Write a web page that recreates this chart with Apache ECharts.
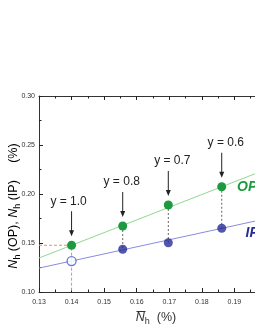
<!DOCTYPE html>
<html><head><meta charset="utf-8">
<script src="https://cdn.jsdelivr.net/npm/echarts@6/dist/echarts.min.js"></script>
<style>html,body{margin:0;padding:0;background:#fff}#c{width:255px;height:330px}</style>
</head><body><div id="c"></div>
<script>
// ---- data ----
const xMin = 0.13, xMax = 0.20, xStep = 0.01;
const yMin = 0.10, yMax = 0.30, yStep = 0.05;
const nbar = [0.1400, 0.1557, 0.1697, 0.1861];      // mean N_h (%)
const opVals = [0.1477, 0.1673, 0.1888, 0.2074];     // N_h (OP)
const ipVals = [0.1316, 0.1436, 0.1503, 0.1650];     // N_h (IP)
const yLabels = ['y = 1.0', 'y = 0.8', 'y = 0.7', 'y = 0.6'];
const opFit = [[0.13, 0.1347], [0.20, 0.2254]];
const ipFit = [[0.13, 0.1244], [0.20, 0.1750]];
const seriesTags = ['OP', 'IP'];
const tagPos = [[0.1908, 0.2071], [0.1934, 0.1602]];

const GREEN = '#1d9a40', NAVY = '#282d96';
const font = 'Liberation Sans, Arial, sans-serif';

const opData = nbar.map((x, i) => [x, opVals[i]]);
const ipData = nbar.map((x, i) => [x, ipVals[i]]);
const connData = nbar.map((x, i) => [x, opVals[i], ipVals[i]]).slice(1);
const annData = nbar.map((x, i) => [x, opVals[i], i]);
const labelDx = [-3, -1, 4, 4];

const chart = echarts.init(document.getElementById('c'), null, {renderer: 'canvas'});
const fmt = v => v.toFixed(2);
const tickStyle = {color: '#222', width: 1};

const axisRich = {
  n: {fontSize: 12.5, fontStyle: 'italic', color: '#333', fontFamily: font},
  s: {fontSize: 9, color: '#333', fontFamily: font, padding: [7, 0, 0, 0]},
  p: {fontSize: 12.5, color: '#333', fontFamily: font}
};

chart.setOption({
  animation: false,
  grid: {left: 39, top: 96, bottom: 38, right: -12, containLabel: false, outerBoundsMode: 'none'},
  xAxis: [{
    type: 'value', min: xMin, max: xMax, interval: xStep, position: 'bottom',
    axisLine: {lineStyle: {color: '#333', width: 1}},
    axisTick: {show: true, inside: true, length: 4, lineStyle: tickStyle},
    minorTick: {show: true, splitNumber: 2, length: 2.5, lineStyle: tickStyle},
    splitLine: {show: false},
    axisLabel: {formatter: fmt, fontSize: 7, color: '#333', margin: 7, fontFamily: font},
    name: '{n|N}{s|h}{p|  (%)}', nameLocation: 'middle', nameGap: 18,
    nameTextStyle: {rich: axisRich, padding: [0, 0, 0, 6]}
  }, {
    type: 'value', min: xMin, max: xMax, interval: xStep, position: 'top',
    axisLine: {lineStyle: {color: '#333', width: 1}},
    axisTick: {show: true, inside: true, length: 4, lineStyle: tickStyle},
    minorTick: {show: true, splitNumber: 2, length: 2.5, lineStyle: tickStyle},
    splitLine: {show: false}, axisLabel: {show: false}
  }],
  yAxis: [{
    type: 'value', min: yMin, max: yMax, interval: yStep,
    axisLine: {show: true, lineStyle: {color: '#333', width: 1}},
    axisTick: {show: true, inside: true, length: 4, lineStyle: tickStyle},
    minorTick: {show: true, splitNumber: 2, length: 2.5, lineStyle: tickStyle},
    splitLine: {show: false},
    axisLabel: {formatter: fmt, fontSize: 7, color: '#333', margin: 4, fontFamily: font}
  }],
  graphic: [
    {type: 'text', x: 14, y: 206, rotation: Math.PI / 2, silent: true,
      style: {text: '{n|N}{s|h}{p| (OP), }{n|N}{s|h}{p| (IP)     (%)}', align: 'center', verticalAlign: 'middle', rich: axisRich}},
    {type: 'line', silent: true, shape: {x1: 136.5, y1: 311.5, x2: 145.5, y2: 311.5}, style: {stroke: '#333', lineWidth: 1}}
  ],
  series: [
    {type: 'line', data: opFit, showSymbol: false, silent: true, lineStyle: {color: '#8fd98f', width: 1}, z: 2},
    {type: 'line', data: ipFit, showSymbol: false, silent: true, lineStyle: {color: '#8a8ae0', width: 1}, z: 2},
    {
      type: 'custom', data: connData, silent: true, z: 3,
      renderItem: (p, api) => {
        const a = api.coord([api.value(0), api.value(1)]);
        const b = api.coord([api.value(0), api.value(2)]);
        return {type: 'line', shape: {x1: a[0], y1: a[1], x2: b[0], y2: b[1]},
          style: {stroke: '#666', lineWidth: 1, lineDash: [2, 2]}};
      }
    },
    {
      type: 'custom', data: [[nbar[0], opVals[0]]], silent: true, z: 3,
      renderItem: (p, api) => {
        const x = api.value(0), y = api.value(1);
        const p0 = api.coord([xMin, y]), p1 = api.coord([x, y]), p2 = api.coord([x, yMin]);
        return {type: 'polyline', shape: {points: [p0, p1, p2]},
          style: {stroke: '#f28a5c', lineWidth: 1, lineDash: [3, 2], fill: null}};
      }
    },
    {type: 'scatter', data: opData, symbolSize: 9, itemStyle: {color: GREEN, opacity: 1}, z: 5},
    {type: 'scatter', symbolSize: 9, z: 5,
      data: ipData.map((d, i) => i === 0
        ? {value: d, itemStyle: {color: '#fff', borderColor: '#3a5bc8', borderWidth: 1.3}}
        : {value: d, itemStyle: {color: NAVY}})},
    {
      type: 'custom', data: annData, silent: true, z: 6,
      renderItem: (p, api) => {
        const i = api.value(2);
        const c = api.coord([api.value(0), api.value(1)]);
        const x = c[0], y = c[1];
        const y0 = y - 34, y1 = y - 9;
        return {type: 'group', children: [
          {type: 'text', style: {text: yLabels[i], x: x + labelDx[i], y: y - 44, align: 'center', verticalAlign: 'middle',
            fontSize: 12, fontFamily: font, fill: '#222'}},
          {type: 'line', shape: {x1: x, y1: y0, x2: x, y2: y1 - 4}, style: {stroke: '#222', lineWidth: 1}},
          {type: 'polygon', shape: {points: [[x, y1], [x - 2.5, y1 - 6], [x + 2.5, y1 - 6]]}, style: {fill: '#222'}}
        ]};
      }
    },
    {
      type: 'custom', data: tagPos.map((d, i) => [d[0], d[1], i]), silent: true, z: 6,
      renderItem: (p, api) => {
        const i = api.value(2);
        const c = api.coord([api.value(0), api.value(1)]);
        return {type: 'text', style: {text: seriesTags[i], x: c[0], y: c[1], align: 'left', verticalAlign: 'middle',
          fontSize: 14, fontWeight: 'bold', fontStyle: 'italic', fontFamily: font, fill: i === 0 ? GREEN : NAVY}};
      }
    }
  ]
});
</script></body></html>
